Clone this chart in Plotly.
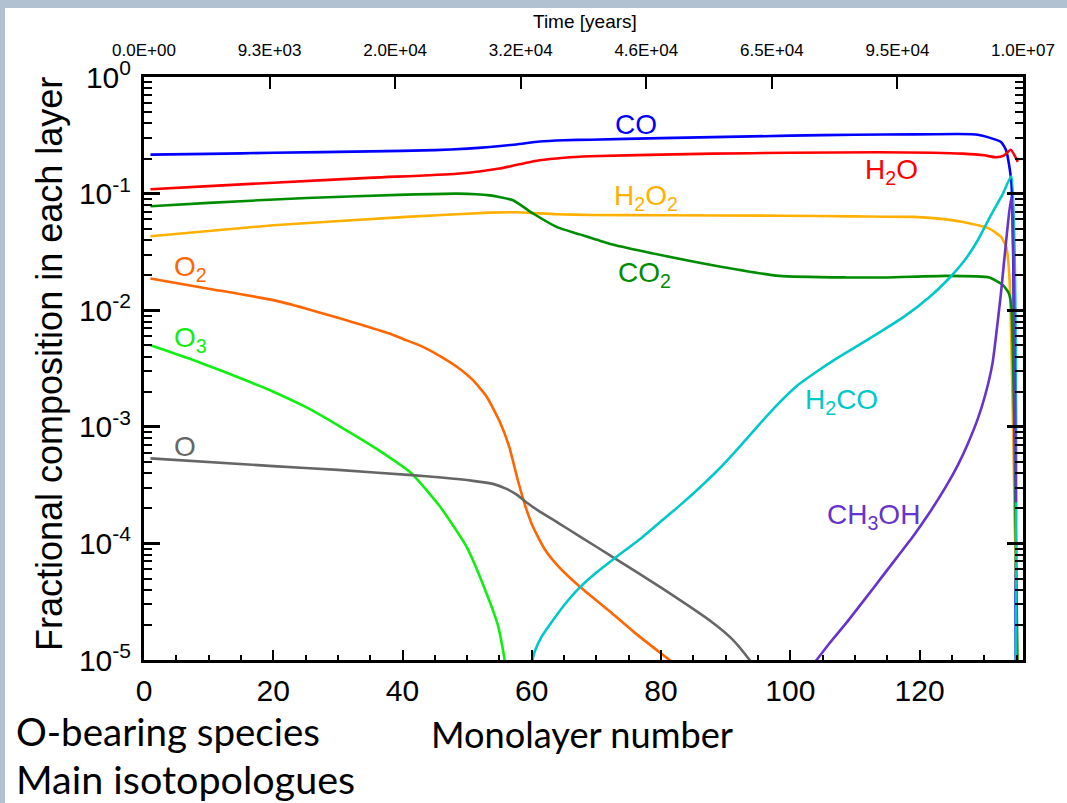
import plotly.graph_objects as go

# ---------------- data ----------------
co_x = [1, 10, 20, 35, 45, 50, 53.5, 57.6, 61.2, 65, 69, 80, 88, 100, 110, 119, 126, 129, 130.8, 132.6, 133.4, 134.2, 134.9]
co_y = [0.216, 0.219, 0.224, 0.230, 0.236, 0.243, 0.251, 0.264, 0.280, 0.287, 0.290, 0.299, 0.305, 0.314, 0.320, 0.322, 0.324, 0.320, 0.302, 0.277, 0.234, 0.126, 6.3e-6]

h2o_x = [1, 10, 20, 35.5, 48.4, 55, 57.6, 61.2, 65, 69, 80, 88, 100, 113.8, 122, 126.7, 130, 131.8, 133.1, 134.1, 135.2]
h2o_y = [0.109, 0.116, 0.124, 0.137, 0.148, 0.164, 0.176, 0.193, 0.203, 0.209, 0.216, 0.220, 0.224, 0.226, 0.224, 0.220, 0.213, 0.205, 0.213, 0.238, 0.187]

h2o2_x = [1, 20, 40.6, 53.5, 57.6, 63.8, 69, 80, 98.3, 110, 119, 123, 126.7, 130.8, 132.6, 133.4, 133.9, 135.2]
h2o2_y = [0.0431, 0.0535, 0.0631, 0.0687, 0.0692, 0.0665, 0.0656, 0.0653, 0.0646, 0.0638, 0.0631, 0.0610, 0.0571, 0.0501, 0.0425, 0.0349, 0.0193, 5.0e-6]

co2_x = [1, 10, 25.2, 40.6, 48.4, 53.5, 57.1, 60.2, 64, 67.4, 72, 77.7, 88, 98.3, 108.7, 115, 124.1, 130.8, 132.9, 133.8, 134.2, 135.2]
co2_y = [0.0778, 0.0832, 0.0918, 0.098, 0.100, 0.0966, 0.0877, 0.0675, 0.0513, 0.0447, 0.0372, 0.0316, 0.0243, 0.0197, 0.0191, 0.0191, 0.0197, 0.0191, 0.0164, 0.0140, 0.0107, 5.0e-6]

o2_x = [1, 10, 20, 25, 30.4, 34, 38, 40, 43, 46, 48.5, 50.9, 53, 55, 56.5, 57.8, 59, 60.2, 62, 64, 67.4, 72, 76, 81.3, 85]
o2_y = [0.0187, 0.0153, 0.0122, 0.01035, 8.49e-3, 7.41e-3, 6.31e-3, 5.69e-3, 4.90e-3, 3.98e-3, 3.24e-3, 2.51e-3, 1.82e-3, 1.12e-3, 6.76e-4, 3.55e-4, 2.09e-4, 1.38e-4, 8.91e-5, 6.46e-5, 4.27e-5, 2.63e-5, 1.70e-5, 1.0e-5, 6.9e-6]

o3_x = [1, 7, 12, 20, 25, 30.4, 36, 41.4, 45.8, 49.9, 53, 54.8, 55.8, 56.3]
o3_y = [5.01e-3, 3.85e-3, 3.02e-3, 2.0e-3, 1.48e-3, 1.0e-3, 6.46e-4, 3.98e-4, 2.07e-4, 9.38e-5, 3.72e-5, 1.95e-5, 1.0e-5, 5.0e-6]

o_x = [1, 20, 30, 41.4, 46, 50.9, 54, 56, 57.6, 59.2, 61, 64, 67.4, 72.6, 80.3, 88, 91, 93.7, 95]
o_y = [5.36e-4, 4.60e-4, 4.27e-4, 3.85e-4, 3.67e-4, 3.44e-4, 3.24e-4, 2.95e-4, 2.63e-4, 2.24e-4, 1.91e-4, 1.51e-4, 1.15e-4, 7.59e-5, 4.07e-5, 2.09e-5, 1.51e-5, 1.0e-5, 7.9e-6]

h2co_x = [59.7, 60.5, 61.5, 63, 65, 67.4, 70, 73, 77, 80, 83, 86, 89, 92, 95, 98, 101, 104, 107, 110, 113.8, 117.5, 121.5, 124.5, 127, 129, 130.8, 132.9, 134.2, 134.9]
h2co_y = [8.3e-6, 1.20e-5, 1.58e-5, 2.09e-5, 2.95e-5, 4.17e-5, 5.62e-5, 7.59e-5, 1.12e-4, 1.55e-4, 2.14e-4, 3.02e-4, 4.37e-4, 6.61e-4, 1.02e-3, 1.55e-3, 2.24e-3, 2.95e-3, 3.80e-3, 4.79e-3, 6.46e-3, 8.71e-3, 0.0129, 0.0186, 0.0269, 0.0398, 0.0617, 0.100, 0.141, 6.3e-6]

ch3oh_x = [103.5, 106, 108.7, 111.5, 114, 116.5, 119, 121.5, 124, 126, 127.5, 129, 130.2, 131.3, 132.5, 134.2, 134.9]
ch3oh_y = [9.1e-6, 1.38e-5, 2.09e-5, 3.31e-5, 5.01e-5, 7.59e-5, 1.15e-4, 1.82e-4, 3.02e-4, 4.79e-4, 7.24e-4, 1.17e-3, 1.91e-3, 3.55e-3, 0.0126, 0.0933, 2.24e-4]

x_ticks = [0, 20, 40, 60, 80, 100, 120]
time_labels = ["0.0E+00", "9.3E+03", "2.0E+04", "3.2E+04", "4.6E+04", "6.5E+04", "9.5E+04", "1.0E+07"]
y_exponents = [-5, -4, -3, -2, -1, 0]

# ---------------- figure ----------------
X_MAX = 136
series = [
    ("CO", co_x, co_y, "#0000FF"),
    ("H2O", h2o_x, h2o_y, "#FF0000"),
    ("H2O2", h2o2_x, h2o2_y, "#FFB000"),
    ("CO2", co2_x, co2_y, "#008C00"),
    ("O2", o2_x, o2_y, "#FF6600"),
    ("O3", o3_x, o3_y, "#11EE11"),
    ("O", o_x, o_y, "#666666"),
    ("H2CO", h2co_x, h2co_y, "#00C8C8"),
    ("CH3OH", ch3oh_x, ch3oh_y, "#6633CC"),
]

fig = go.Figure()
for name, xs, ys, col in series:
    fig.add_trace(go.Scatter(x=xs, y=ys, mode="lines", name=name,
                             line=dict(color=col, width=2.6, shape="spline", smoothing=0.5),
                             hoverinfo="skip"))

# invisible trace to activate the top (time) axis
fig.add_trace(go.Scatter(x=[0, X_MAX], y=[1e-3, 1e-3], xaxis="x2", mode="lines",
                         line=dict(width=0), opacity=0, hoverinfo="skip", showlegend=False))

labels = [
    ("CO", 72.5, -0.406, "#0000FF"),
    ("H<sub>2</sub>O", 111.2, -0.81, "#FF0000"),
    ("H<sub>2</sub>O<sub>2</sub>", 72.4, -1.03, "#FFB000"),
    ("CO<sub>2</sub>", 73.1, -1.69, "#008C00"),
    ("O<sub>2</sub>", 4.3, -1.64, "#FF6600"),
    ("O<sub>3</sub>", 4.3, -2.25, "#11EE11"),
    ("O", 4.3, -3.165, "#666666"),
    ("H<sub>2</sub>CO", 101.9, -2.78, "#00C8C8"),
    ("CH<sub>3</sub>OH", 105.3, -3.77, "#6633CC"),
]
for txt, lx, ly, col in labels:
    fig.add_annotation(x=lx, y=ly, xref="x", yref="y", text=txt, showarrow=False,
                       xanchor="left", yanchor="middle",
                       font=dict(size=28, color=col, family="Liberation Sans, Arial"))

top_vals = [k * X_MAX / 7 for k in range(8)]

W, H = 1067, 803
L, R, T, B = 144, 44, 77, 143
pw, ph = W - L - R, H - T - B

def px_to_paper_x(px):
    return (px - L) / pw

def py_to_paper_y(py):
    return (H - B - py) / ph

# white slide area over the light-blue slide background
fig.add_shape(type="rect", xref="paper", yref="paper",
              x0=px_to_paper_x(5), x1=px_to_paper_x(W + 60),
              y0=py_to_paper_y(H + 60), y1=py_to_paper_y(8),
              fillcolor="white", line=dict(width=0), layer="below")

fig.add_annotation(xref="paper", yref="paper", x=px_to_paper_x(49), y=py_to_paper_y(364),
                   text="Fractional composition in each layer", textangle=-90,
                   showarrow=False, xanchor="center", yanchor="middle",
                   font=dict(size=36, family="Liberation Sans, Arial", color="black"))
fig.add_annotation(xref="paper", yref="paper", x=px_to_paper_x(585), y=py_to_paper_y(21),
                   text="Time [years]", showarrow=False, xanchor="center", yanchor="middle",
                   font=dict(size=19, family="Liberation Sans, Arial", color="black"))

slide_font = "Lato, Open Sans, sans-serif"
fig.add_annotation(xref="paper", yref="paper", x=px_to_paper_x(14), y=py_to_paper_y(731),
                   text="O-bearing species", showarrow=False, xanchor="left", yanchor="middle",
                   font=dict(size=38.5, family=slide_font, color="black"))
fig.add_annotation(xref="paper", yref="paper", x=px_to_paper_x(429), y=py_to_paper_y(734),
                   text="Monolayer number", showarrow=False, xanchor="left", yanchor="middle",
                   font=dict(size=36.2, family=slide_font, color="black"))
fig.add_annotation(xref="paper", yref="paper", x=px_to_paper_x(14), y=py_to_paper_y(779),
                   text="Main isotopologues", showarrow=False, xanchor="left", yanchor="middle",
                   font=dict(size=39.5, family=slide_font, color="black"))

minor_y = [k * 10.0 ** e for e in range(-5, 0) for k in range(2, 10)]

fig.update_layout(
    width=W, height=H,
    margin=dict(l=L, r=R, t=T, b=B, autoexpand=False),
    paper_bgcolor="#b2c1d1", plot_bgcolor="white",
    showlegend=False,
    font=dict(family="Liberation Sans, Arial", color="black"),
    xaxis=dict(range=[0, X_MAX], showline=True, linecolor="black", linewidth=3, mirror=True,
               ticks="inside", ticklen=10, tickwidth=2, tickcolor="black",
               tickmode="array", tickvals=x_ticks, ticktext=[str(v) for v in x_ticks],
               tickfont=dict(size=30), ticklabelstandoff=2,
               minor=dict(ticks="inside", ticklen=5, tickwidth=2, tickcolor="black",
                          tickmode="linear", tick0=0, dtick=5, showgrid=False),
               showgrid=False, zeroline=False),
    xaxis2=dict(range=[0, X_MAX], overlaying="x", side="top", anchor="y",
                tickmode="array", tickvals=top_vals, ticktext=time_labels,
                ticks="inside", ticklen=12, tickwidth=2, tickcolor="black",
                tickfont=dict(size=17), ticklabelstandoff=17,
                showline=False, showgrid=False, zeroline=False),
    yaxis=dict(type="log", range=[-5, 0], showline=True, linecolor="black", linewidth=3,
               mirror="ticks", ticks="inside", ticklen=16, tickwidth=2.5, tickcolor="black",
               tickmode="array", tickvals=[10.0 ** e for e in y_exponents],
               ticktext=["10<sup>%d</sup>" % e for e in y_exponents],
               tickfont=dict(size=30), ticklabelstandoff=4,
               minor=dict(ticks="inside", ticklen=8, tickwidth=2, tickcolor="black",
                          tickmode="array", tickvals=minor_y, showgrid=False),
               showgrid=False, zeroline=False),
)

fig.write_html("out.html",
               config={"displayModeBar": False},
               post_script="document.body.style.margin='0';document.body.style.padding='0';"
                           "document.body.style.overflow='hidden';")
